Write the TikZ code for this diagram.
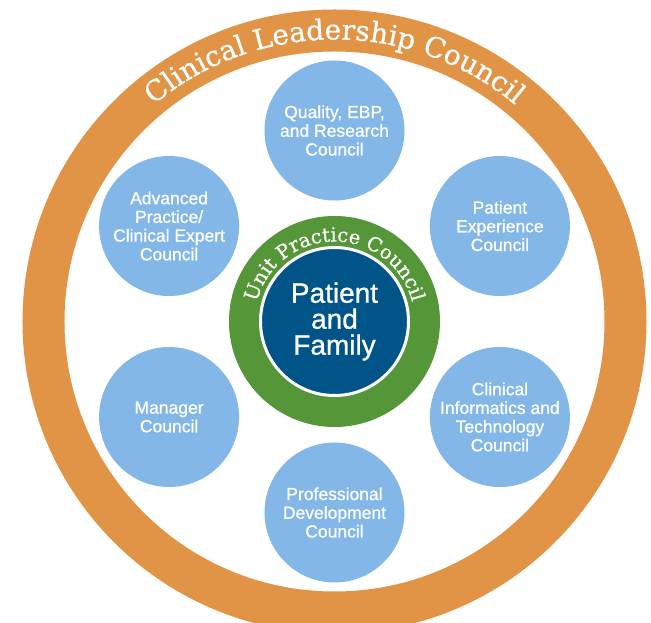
\documentclass[tikz,border=0pt]{standalone}
\usepackage{fontspec}
\setmainfont{Liberation Sans}
\newfontfamily\councilsans{Liberation Sans}[FakeBold=0.8]
\newfontfamily\slabserif{DejaVu Serif}[FakeBold=0.6]
\usetikzlibrary{decorations.text}

\definecolor{ringorange}{HTML}{E19446}
\definecolor{councilblue}{HTML}{82B7E8}
\definecolor{unitgreen}{HTML}{549638}
\definecolor{coreblue}{HTML}{005488}

\newcommand{\leaderfont}{\slabserif\fontsize{28}{30}\selectfont}
\newcommand{\unitfont}{\slabserif\fontsize{19.5}{21}\selectfont}

\begin{document}
\begin{tikzpicture}[
  x=1pt, y=1pt,
  council/.style={circle, fill=councilblue, minimum size=140pt, inner sep=0pt, align=center, text=white, font=\councilsans\fontsize{17.5}{18.7}\selectfont},
  core/.style={circle, fill=coreblue, draw=white, line width=3pt, minimum size=148pt, inner sep=0pt, align=center, text=white, font=\councilsans\fontsize{28}{26}\selectfont},
  ringtext/.style={decorate, decoration={text along path, text align=center, text color=white}},
]

% Page
\clip (-334.5,-301.5) rectangle (316.5,321.5);
\fill[white] (-334.5,-301.5) rectangle (316.5,321.5);

% Leadership ring
\draw[ringorange, line width=42pt] (0,0) circle[radius=291pt];
\path[ringtext, decoration={text={|\leaderfont|Clinical Leadership Council}}]
  (150:282pt) arc[start angle=150, end angle=30, radius=282pt];

% Unit practice ring and core
\node[circle, fill=unitgreen, minimum size=211pt, inner sep=0pt] (unit) at (0,0) {};
\node[core] (family) at (0,0) {Patient\\and\\Family};
\path[ringtext, decoration={text={|\unitfont|Unit Practice Council}}]
  (178:80pt) arc[start angle=178, end angle=2, radius=80pt];

% Councils
\node[council] (quality) at (90:191) {Quality, EBP,\\and Research\\Council};
\node[council] (experience) at (30:191) {Patient\\Experience\\Council};
\node[council] (informatics) at (-30:191) {Clinical\\Informatics and\\Technology\\Council};
\node[council] (development) at (-90:191) {Professional\\Development\\Council};
\node[council] (manager) at (-150:191) {Manager\\Council};
\node[council] (advanced) at (150:191) {Advanced\\Practice/\\Clinical Expert\\Council};

\end{tikzpicture}
\end{document}
